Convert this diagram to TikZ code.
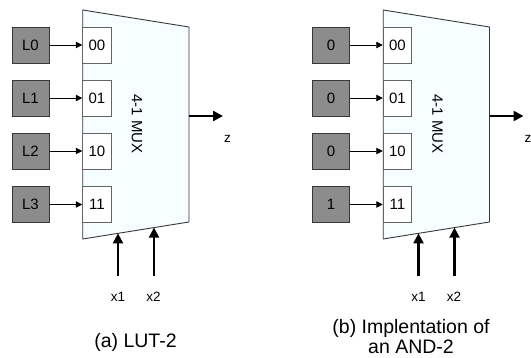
\documentclass[tikz,border=0pt]{standalone}
\usepackage{fontspec}
\setmainfont{Liberation Sans}
\usetikzlibrary{arrows.meta}
\definecolor{muxfill}{RGB}{246,254,255}
\definecolor{grayfill}{RGB}{140,140,140}
\definecolor{edgecol}{RGB}{55,55,55}
\definecolor{seledge}{RGB}{100,100,100}
\tikzset{
  lutbox/.style={draw=edgecol, fill=grayfill, line width=0.9pt, minimum width=37pt, minimum height=36pt, inner sep=0pt, font=\fontsize{15}{17}\selectfont},
  selbox/.style={draw=seledge, fill=white, line width=0.9pt, minimum width=28.3pt, minimum height=36pt, inner sep=0pt, font=\fontsize{15}{17}\selectfont},
  thinarrow/.style={-{Triangle[length=6.5pt,width=6.5pt]}, line width=0.8pt, draw=black},
  thickarrow/.style={-{Triangle[length=10pt,width=10pt]}, line width=2.4pt, draw=black},
  muxshape/.style={draw=edgecol, fill=muxfill, line width=0.9pt},
  lbl/.style={font=\fontsize{13.5}{15}\selectfont, inner sep=0pt},
  captext/.style={font=\fontsize{19.5}{20}\selectfont, inner sep=0pt, align=center}
}
\begin{document}
\begin{tikzpicture}[x=1pt,y=-1pt]
\useasboundingbox (0,0) rectangle (531,358);
\foreach \p/\s/\va/\vb/\vc/\vd in {a/0/L0/L1/L2/L3, b/300.5/0/0/0/1} {
  \begin{scope}[xshift=\s]
    \coordinate (\p tl) at (82.7,10);
    \coordinate (\p tr) at (189,27);
    \coordinate (\p br) at (189,222);
    \coordinate (\p bl) at (82.7,239);
    \draw[muxshape] (\p tl) -- (\p tr) -- (\p br) -- (\p bl) -- cycle;
    \node[rotate=-90, font=\fontsize{15}{17}\selectfont] (\p mux) at (137,124) {4-1 MUX};
    \node[lutbox] (\p g0) at (30.5,45) {\va};
    \node[lutbox] (\p g1) at (30.5,98) {\vb};
    \node[lutbox] (\p g2) at (30.5,151) {\vc};
    \node[lutbox] (\p g3) at (30.5,204.5) {\vd};
    \node[selbox] (\p s0) at (96.85,45) {00};
    \node[selbox] (\p s1) at (96.85,98) {01};
    \node[selbox] (\p s2) at (96.85,151) {10};
    \node[selbox] (\p s3) at (96.85,204.5) {11};
    \foreach \i in {0,1,2,3} {
      \draw[thinarrow] (\p g\i.east) -- (\p s\i.west);
    }
    \coordinate (\p zs) at (189,116);
    \coordinate (\p ze) at (223,116);
    \draw[thickarrow] (\p zs) -- (\p ze);
    \node[lbl] (\p z) at (227.5,139) {z};
    \coordinate (\p x1s) at (118,276);
    \coordinate (\p x1e) at (118,233.4);
    \coordinate (\p x2s) at (154,276);
    \coordinate (\p x2e) at (154,227.6);
    \draw[thickarrow, line width=2.2pt] (\p x1s) -- (\p x1e);
    \draw[thickarrow, line width=2.2pt] (\p x2s) -- (\p x2e);
    \node[lbl] (\p x1) at (118,297) {x1};
    \node[lbl] (\p x2) at (153.5,297) {x2};
  \end{scope}
}
\node[captext] (capa) at (135.5,342) {(a) LUT-2};
\node[captext] (capb) at (411,337) {(b) Implentation of\\an AND-2};
\end{tikzpicture}
\end{document}
